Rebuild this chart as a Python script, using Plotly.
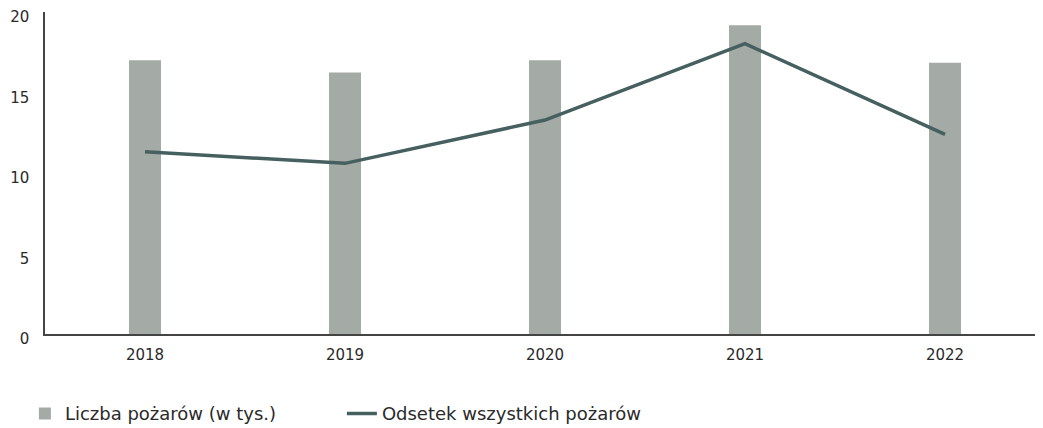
import plotly.graph_objects as go

years = ["2018", "2019", "2020", "2021", "2022"]
fires_thousands = [17.0, 16.25, 17.0, 19.17, 16.85]
share_all_fires = [11.32, 10.6, 13.29, 18.03, 12.4]
y_ticks = [0, 5, 10, 15, 20]

BAR_COLOR = "#a4aaa6"
LINE_COLOR = "#45605f"
FONT = "DejaVu Sans, sans-serif"

fig = go.Figure()
fig.add_trace(go.Bar(
    x=years, y=fires_thousands, name="Liczba pożarów (w tys.)",
    marker=dict(color=BAR_COLOR, line=dict(width=0)), width=0.16,
))
fig.add_trace(go.Scatter(
    x=years, y=share_all_fires, name="Odsetek wszystkich pożarów",
    mode="lines", line=dict(color=LINE_COLOR, width=3.5),
))

# page body has an 8px margin: figure sized/offset to fill the 1043x428 view
fig.update_layout(
    width=1043, height=420,
    margin=dict(l=37, r=0, t=4, b=94, autoexpand=False),
    paper_bgcolor="white", plot_bgcolor="white",
    font=dict(family=FONT, size=15, color="#2a2a2a"),
    showlegend=True,
    legend=dict(orientation="h", x=-0.02, xanchor="left", y=-0.19, yanchor="top",
                entrywidth=272, entrywidthmode="pixels",
                font=dict(size=18, color="#2a2a2a")),
    xaxis=dict(
        type="category", range=[-0.5, 4.53], automargin=False,
        showline=True, linecolor="#444", linewidth=1.5,
        showgrid=False, ticks="", ticklabelstandoff=6,
    ),
    yaxis=dict(
        range=[0, 20], tickvals=y_ticks, automargin=False,
        showline=True, linecolor="#444", linewidth=1.5,
        showgrid=False, zeroline=False, ticks="", ticklabelstandoff=11,
        ticklabelshift=5, ticklabeloverflow="allow",
    ),
)

fig.write_html("out.html")
